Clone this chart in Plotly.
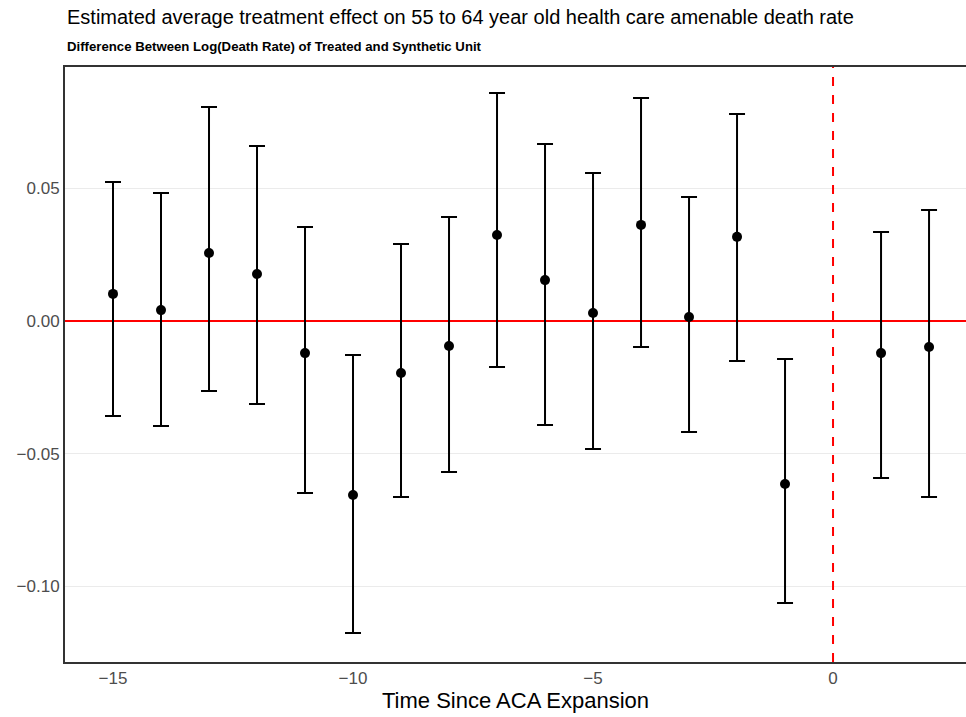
import plotly.graph_objects as go

# Data
time_since = [-15, -14, -13, -12, -11, -10, -9, -8, -7, -6, -5, -4, -3, -2, -1, 1, 2]
estimate = [0.0102, 0.0041, 0.0256, 0.0177, -0.0121, -0.0656, -0.0196, -0.0094, 0.0324,
            0.0154, 0.0030, 0.0362, 0.0015, 0.0317, -0.0614, -0.0121, -0.0098]
upper = [0.0524, 0.0482, 0.0806, 0.0659, 0.0354, -0.0128, 0.0290, 0.0392, 0.0859,
         0.0667, 0.0558, 0.0840, 0.0467, 0.0780, -0.0143, 0.0335, 0.0418]
lower = [-0.0358, -0.0396, -0.0264, -0.0313, -0.0648, -0.1176, -0.0663, -0.0569, -0.0173,
         -0.0392, -0.0482, -0.0098, -0.0418, -0.0151, -0.1063, -0.0592, -0.0663]
x_ticks = [-15, -10, -5, 0]
y_ticks = [-0.10, -0.05, 0.00, 0.05]
x_range = [-16.0, 2.77]
y_range = [-0.1285, 0.0957]

err_plus = [u - e for u, e in zip(upper, estimate)]
err_minus = [e - l for e, l in zip(estimate, lower)]

fig = go.Figure()
# reference lines (drawn first so the error bars sit on top)
fig.add_trace(go.Scatter(x=x_range, y=[0, 0], mode="lines",
                         line=dict(color="#ff0000", width=2), hoverinfo="skip", showlegend=False))
fig.add_trace(go.Scatter(x=[0, 0], y=y_range, mode="lines",
                         line=dict(color="#ff0000", width=2, dash="dash"), hoverinfo="skip", showlegend=False))
fig.add_trace(go.Scatter(
    x=time_since, y=estimate, mode="markers",
    marker=dict(color="black", size=10),
    error_y=dict(type="data", symmetric=False, array=err_plus, arrayminus=err_minus,
                 color="black", thickness=2, width=8),
    showlegend=False,
))

fig.update_layout(
    width=966, height=717,
    margin=dict(l=65, r=0, t=67, b=55),
    plot_bgcolor="white", paper_bgcolor="white",
    font=dict(family="Liberation Sans, Arial, sans-serif"),
    xaxis=dict(
        range=x_range, tickvals=x_ticks, ticks="",
        showgrid=False, zeroline=False,
        showline=True, linecolor="#333333", linewidth=2, mirror=True,
        tickfont=dict(size=17, color="#4d4d4d"),
        title=dict(text="Time Since ACA Expansion", font=dict(size=22, color="black"), standoff=4),
    ),
    yaxis=dict(
        range=y_range, tickvals=y_ticks, tickformat=".2f", ticks="",
        showgrid=True, gridcolor="#ebebeb", gridwidth=1, zeroline=False,
        showline=True, linecolor="#333333", linewidth=2,
        tickfont=dict(size=17, color="#4d4d4d"),
    ),
    annotations=[
        dict(text="Estimated average treatment effect on 55 to 64 year old health care amenable death rate",
             xref="paper", yref="paper", x=0, y=1.084, xanchor="left", yanchor="middle",
             showarrow=False, font=dict(size=20, color="black")),
        dict(text="<b>Difference Between Log(Death Rate) of Treated and Synthetic Unit</b>",
             xref="paper", yref="paper", x=0, y=1.034, xanchor="left", yanchor="middle",
             showarrow=False, font=dict(size=13.2, color="black")),
    ],
)

fig.write_html("out.html")
